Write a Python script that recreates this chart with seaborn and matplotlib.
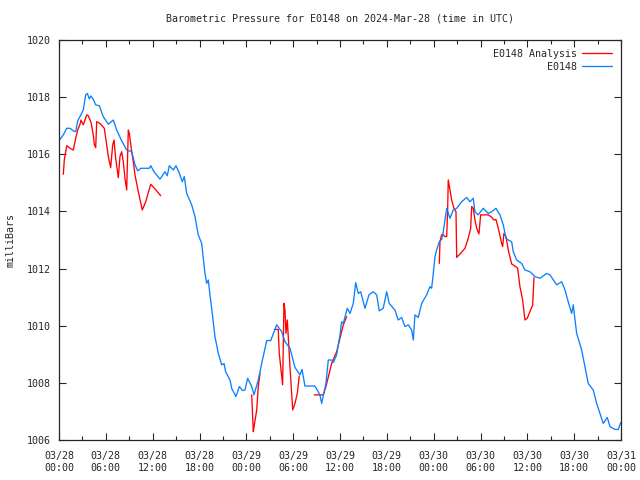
import numpy as np
import pandas as pd
import matplotlib
matplotlib.use("Agg")
import matplotlib.pyplot as plt
import matplotlib.dates as mdates
from matplotlib.lines import Line2D
import seaborn as sns

# -----------------------------
# data (hours after 2024-03-28 00:00 UTC, pressure in mbar)
# -----------------------------
obs_hours = [
    0.13, 0.55, 0.99, 1.41, 1.83, 2.14, 2.40, 2.69, 3.11, 3.42, 3.63, 3.88, 4.06, 4.32,
    4.70, 5.16, 5.67, 6.32, 6.96, 7.39, 8.03, 8.67, 9.31, 9.74, 10.08, 10.50, 11.57,
    11.75, 12.17, 12.94, 13.58, 13.87, 14.13, 14.64, 14.99, 15.37, 15.79, 16.05, 16.36,
    17.00, 17.42, 17.84, 18.28, 18.70, 18.92, 19.13, 19.34, 19.64, 19.98, 20.41, 20.84,
    21.14, 21.35, 21.91, 22.12, 22.67, 23.10, 23.53, 23.83, 24.17, 24.69, 24.98, 25.53,
    25.97, 26.61, 27.12, 27.89, 28.53, 28.95, 29.59, 30.23, 30.87, 31.13, 31.51, 32.79,
    33.43, 33.65, 34.20, 34.50, 34.93, 35.14, 35.57, 36.00, 36.21, 36.42, 36.93, 37.28,
    37.70, 38.01, 38.34, 38.65, 39.20, 39.71, 40.26, 40.70, 41.03, 41.54, 41.98, 42.31,
    43.04, 43.46, 43.90, 44.32, 44.75, 45.18, 45.39, 45.60, 46.03, 46.46, 47.10, 47.53,
    47.74, 47.95, 48.17, 48.38, 48.72, 49.02, 49.23, 49.67, 50.09, 50.51, 50.95, 51.59,
    52.23, 52.65, 53.07, 53.29, 53.71, 54.35, 54.99, 55.43, 55.98, 56.49, 56.92, 57.26,
    57.56, 57.99, 58.20, 58.63, 59.27, 59.69, 60.33, 60.97, 61.62, 62.47, 62.90, 63.76,
    64.40, 64.82, 65.24, 65.68, 65.88, 66.32, 66.96, 67.38, 67.80, 68.44, 68.88, 69.73,
    70.24, 70.59, 71.23, 71.65, 71.96,
]
obs_mbar = [
    1016.52, 1016.68, 1016.91, 1016.91, 1016.82, 1016.79, 1017.17, 1017.32, 1017.55,
    1018.08, 1018.13, 1017.94, 1018.04, 1017.96, 1017.73, 1017.70, 1017.32, 1017.05,
    1017.20, 1016.85, 1016.47, 1016.15, 1016.09, 1015.63, 1015.42, 1015.51, 1015.51,
    1015.60, 1015.39, 1015.13, 1015.39, 1015.25, 1015.60, 1015.45, 1015.60, 1015.37,
    1015.04, 1015.22, 1014.63, 1014.23, 1013.82, 1013.18, 1012.88, 1011.83, 1011.48,
    1011.60, 1011.08, 1010.43, 1009.62, 1009.03, 1008.63, 1008.68, 1008.39, 1008.10,
    1007.81, 1007.52, 1007.87, 1007.73, 1007.75, 1008.16, 1007.87, 1007.58, 1008.10,
    1008.68, 1009.48, 1009.48, 1010.03, 1009.79, 1009.44, 1009.21, 1008.54, 1008.28,
    1008.47, 1007.89, 1007.89, 1007.58, 1007.28, 1007.98, 1008.80, 1008.80, 1008.71,
    1008.98, 1009.68, 1010.14, 1010.08, 1010.61, 1010.43, 1010.78, 1011.51, 1011.13,
    1011.19, 1010.61, 1011.08, 1011.19, 1011.08, 1010.52, 1010.61, 1011.19, 1010.78,
    1010.55, 1010.20, 1010.29, 1009.97, 1010.03, 1009.85, 1009.50, 1010.38, 1010.29,
    1010.78, 1011.08, 1011.37, 1011.31, 1011.83, 1012.42, 1012.65, 1012.94, 1013.02,
    1013.29, 1014.11, 1013.76, 1014.05, 1014.11, 1014.34, 1014.49, 1014.34, 1014.46,
    1013.99, 1013.88, 1014.11, 1013.93, 1013.99, 1014.11, 1013.88, 1013.53, 1013.06,
    1013.00, 1012.94, 1012.59, 1012.30, 1012.18, 1011.95, 1011.89, 1011.72, 1011.66,
    1011.83, 1011.78, 1011.43, 1011.54, 1011.25, 1010.84, 1010.43, 1010.73, 1009.73,
    1009.15, 1008.57, 1007.98, 1007.75, 1007.28, 1006.58, 1006.79, 1006.47, 1006.37,
    1006.37, 1006.61,
]

# analysis series comes in separate pieces (gaps between them)
ana_hours_1 = [
    0.55, 0.68, 0.99, 1.41, 1.83, 2.14, 2.40, 2.69, 2.82, 3.11, 3.55, 3.75, 4.10, 4.39,
    4.52, 4.70, 4.83, 5.25, 5.80, 6.11, 6.32, 6.62, 6.88, 7.05, 7.26, 7.60, 7.81, 8.03,
    8.24, 8.45, 8.67, 8.88, 9.01, 9.31, 9.52, 9.74, 10.16, 10.67, 11.11, 11.75, 12.30,
    13.03,
]
ana_mbar_1 = [
    1015.30, 1015.80, 1016.30, 1016.21, 1016.15, 1016.56, 1016.85, 1017.05, 1017.20,
    1017.03, 1017.38, 1017.35, 1017.12, 1016.68, 1016.35, 1016.23, 1017.14, 1017.08,
    1016.91, 1016.33, 1015.92, 1015.53, 1016.33, 1016.50, 1015.86, 1015.18, 1015.92,
    1016.09, 1015.74, 1015.16, 1014.75, 1016.85, 1016.73, 1016.09, 1015.74, 1015.27,
    1014.69, 1014.05, 1014.34, 1014.95, 1014.79, 1014.55,
]
ana_hours_2 = [24.69, 24.89, 25.02, 25.33, 25.53, 25.75]
ana_mbar_2 = [1007.58, 1006.29, 1006.52, 1007.05, 1007.87, 1008.33]
ana_hours_3 = [27.58, 28.09, 28.22, 28.65, 28.82, 28.95, 29.08, 29.25, 29.59, 29.94,
               30.23, 30.53, 30.78]
ana_mbar_3 = [1009.87, 1009.87, 1009.03, 1007.93, 1010.78, 1010.55, 1009.73, 1010.20,
              1008.57, 1007.05, 1007.28, 1007.63, 1008.24]
ana_hours_4 = [32.70, 33.86, 34.20, 34.93, 35.57, 36.00, 36.42, 36.86]
ana_mbar_4 = [1007.58, 1007.58, 1007.87, 1008.68, 1009.09, 1009.56, 1010.03, 1010.32]
ana_hours_5 = [
    48.72, 48.81, 49.02, 49.23, 49.45, 49.67, 49.79, 49.87, 50.09, 50.30, 50.60, 50.86,
    50.95, 51.37, 52.01, 52.43, 52.74, 52.87, 53.07, 53.29, 53.51, 53.80, 54.02, 54.99,
    55.43, 55.72, 55.98, 56.28, 56.71, 56.84, 57.00, 57.26, 57.56, 57.99, 58.41, 58.76,
    59.05, 59.40, 59.69, 59.99, 60.33, 60.68, 60.85,
]
ana_mbar_5 = [
    1012.18, 1012.94, 1013.18, 1013.18, 1013.12, 1013.12, 1014.05, 1015.10, 1014.75,
    1014.40, 1014.11, 1013.99, 1012.39, 1012.51, 1012.71, 1013.06, 1013.41, 1014.17,
    1014.11, 1013.70, 1013.41, 1013.21, 1013.88, 1013.88, 1013.80, 1013.70, 1013.72,
    1013.41, 1012.88, 1012.77, 1013.23, 1013.12, 1012.65, 1012.16, 1012.09, 1012.01,
    1011.37, 1010.90, 1010.20, 1010.26, 1010.49, 1010.72, 1011.68,
]

start = pd.Timestamp("2024-03-28 00:00")

obs = pd.DataFrame({
    "time": start + pd.to_timedelta(obs_hours, unit="h"),
    "mbar": obs_mbar,
})

pieces = [
    (ana_hours_1, ana_mbar_1), (ana_hours_2, ana_mbar_2), (ana_hours_3, ana_mbar_3),
    (ana_hours_4, ana_mbar_4), (ana_hours_5, ana_mbar_5),
]
ana = pd.concat([
    pd.DataFrame({
        "time": start + pd.to_timedelta(h, unit="h"),
        "mbar": v,
        "seg": i,
    })
    for i, (h, v) in enumerate(pieces)
], ignore_index=True)

RED = "#ff0000"
BLUE = "#0a80ff"

# -----------------------------
# figure
# -----------------------------
sns.set_style("ticks")
plt.rcParams["font.family"] = ["DejaVu Sans Mono"]
FS = 7.2

fig = plt.figure(figsize=(6.4, 4.8), dpi=100)
ax = fig.add_axes([59 / 640, 40 / 480, 562 / 640, 400 / 480])

sns.lineplot(data=ana, x="time", y="mbar", units="seg", estimator=None,
             color=RED, lw=0.95, ax=ax, legend=False)
sns.lineplot(data=obs, x="time", y="mbar", estimator=None,
             color=BLUE, lw=0.95, ax=ax, legend=False)

ax.set_xlim(start, start + pd.Timedelta(hours=72))
ax.set_ylim(1006, 1020)
ax.set_yticks(range(1006, 1021, 2))

ax.xaxis.set_major_locator(mdates.HourLocator(byhour=[0, 6, 12, 18]))
ax.xaxis.set_minor_locator(mdates.HourLocator(byhour=[3, 9, 15, 21]))
ax.xaxis.set_major_formatter(mdates.DateFormatter("%m/%d\n%H:%M"))

ax.tick_params(which="major", direction="in", length=5, width=0.8,
               top=True, right=True, labelsize=FS)
ax.tick_params(which="minor", direction="in", length=3, width=0.8,
               top=True, right=True)
ax.tick_params(axis="x", which="major", pad=8)
ax.tick_params(axis="y", which="major", pad=6)
for lab in ax.get_xticklabels():
    lab.set_linespacing(1.25)
for s in ax.spines.values():
    s.set_linewidth(0.9)

ax.set_xlabel("")
ax.set_ylabel("milliBars", fontsize=FS, labelpad=8)
ax.set_title("Barometric Pressure for E0148 on 2024-Mar-28 (time in UTC)",
             fontsize=FS, pad=13)

handles = [Line2D([], [], color=RED, lw=0.95), Line2D([], [], color=BLUE, lw=0.95)]
ax.legend(handles, ["E0148 Analysis", "E0148"], loc="upper right", frameon=False,
          fontsize=FS, markerfirst=False, handlelength=3.0, handletextpad=0.5,
          labelspacing=0.3, borderaxespad=0.5)

fig.savefig("out.png", dpi=100)
